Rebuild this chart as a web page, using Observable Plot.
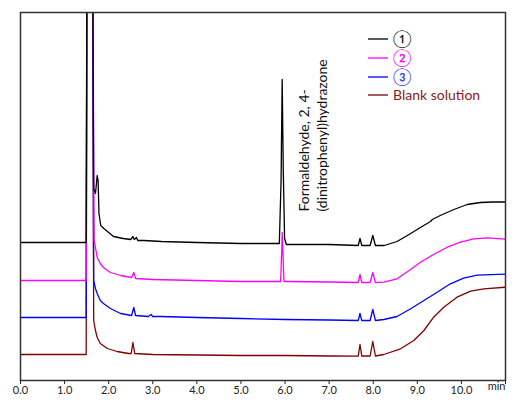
<!DOCTYPE html>
<html><head><meta charset="utf-8">
<script src="https://cdn.jsdelivr.net/npm/d3@7"></script>
<script src="https://cdn.jsdelivr.net/npm/@observablehq/plot@0.6"></script>
<style>body{margin:0;background:#fff}</style>
</head><body><div id="chart"></div>
<script>
// Retention time (min) and detector signal (arbitrary units)
const seriesNames = ["①", "②", "③", "Blank solution"];
const lineColors = ["#000000", "#ff00ff", "#0000ff", "#800000"];
const textColors = ["#222222", "#ff00ff", "#3a3aff", "#8b1a1a"];
const tickValues = [0,1,2,3,4,5,6,7,8,9,10,11];

const trace1 = [[0,138],[1.49,138],[1.51,500],[1.63,500],[1.66,192],[1.70,187],[1.74,205],[1.76,200],[1.78,167],[1.82,155],[1.89,152],[2.0,148],[2.11,144],[2.33,142],[2.5,141],[2.55,144],[2.58,141],[2.63,143],[2.66,140],[2.8,140],[3.2,139],[4.0,138],[5.0,137],[5.87,137],[5.91,200],[5.935,301],[5.96,210],[5.99,142],[6.03,136],[7.0,136],[7.66,135],[7.70,142],[7.74,135],[7.93,135],[7.99,145],[8.05,135],[8.25,135],[8.54,139],[8.85,147],[9.07,153],[9.30,159],[9.34,161],[9.52,165],[9.83,171],[10.13,176],[10.43,178],[10.7,178.5],[11,178.5]];
const trace2 = [[0,100],[1.49,100],[1.51,500],[1.63,500],[1.67,140],[1.70,133],[1.74,123],[1.81,117],[1.88,113],[2.04,108],[2.27,105],[2.52,103],[2.57,108],[2.61,102],[3.0,101],[4.0,100],[5.0,99],[5.90,99],[5.925,130],[5.935,148],[5.95,130],[5.975,99],[6.03,99],[7.0,98.5],[7.66,98],[7.70,106],[7.74,98],[7.93,98],[7.99,108],[8.05,98],[8.24,98.3],[8.54,101.7],[8.84,110.7],[9.07,118.3],[9.37,126],[9.68,133.3],[9.98,138.3],[10.28,141.7],[10.58,142.7],[11,141.3]];
const trace3 = [[0,63],[1.49,63],[1.51,500],[1.63,500],[1.66,100],[1.70,92],[1.74,87],[1.81,80],[1.88,77],[2.04,72],[2.27,67],[2.52,65],[2.57,73],[2.61,65],[2.9,64],[2.96,66],[3.0,64],[3.18,64],[4.0,63],[5.0,62],[6.0,61],[7.0,60.5],[7.66,60],[7.70,67],[7.74,60],[7.93,60],[7.99,71],[8.05,60],[8.24,61],[8.54,64],[8.85,71.7],[9.15,80],[9.45,88.3],[9.75,96.7],[10.05,102.3],[10.36,105.3],[11,106.3]];
const traceBlank = [[0,26],[1.49,26],[1.51,500],[1.63,500],[1.66,60],[1.70,50],[1.74,43],[1.81,37],[1.97,32],[2.19,29],[2.45,27],[2.51,27],[2.55,38],[2.59,27],[3.0,26],[4.0,25.5],[5.0,25],[6.0,25],[7.0,24.5],[7.66,24.3],[7.70,36],[7.74,24.5],[7.93,24.5],[7.99,39],[8.05,24.5],[8.24,26],[8.62,31.7],[8.92,40],[9.15,50],[9.37,63.3],[9.6,73.3],[9.9,83.3],[10.21,89.3],[10.51,91.7],[11,93.3]];
const traces = [trace1, trace2, trace3, traceBlank];

const annotation = {time: 6.62, signal: 169, label: "Formaldehyde, 2, 4-\n(dinitrophenyl)hydrazone"};

const drawOrder = [3, 2, 1, 0];
const lineMarks = drawOrder.map(i => Plot.line(traces[i], {
  x: d => d[0], y: d => d[1], stroke: lineColors[i], strokeWidth: 1.3, clip: true
}));

const svg = Plot.plot({
  width: 516, height: 403,
  marginLeft: 20, marginRight: 11, marginTop: 12, marginBottom: 23,
  style: {fontFamily: "Lato, 'Open Sans', sans-serif", fontSize: "11px", color: "#222", background: "#fff"},
  x: {domain: [0, 11], ticks: tickValues, tickFormat: d => d === 11 ? "" : d.toFixed(1), tickSize: 4, tickPadding: 2, label: null},
  y: {domain: [0, 368], axis: null},
  marks: [
    ...lineMarks,
    Plot.frame({stroke: "#333", strokeWidth: 1.5}),
    Plot.text([annotation], {x: "time", y: "signal", text: "label", rotate: -90, textAnchor: "start", lineAnchor: "middle", lineHeight: 1.31, fontSize: 14, fill: "#111"}),
    Plot.text(["min"], {frameAnchor: "bottom-right", textAnchor: "end", lineAnchor: "middle", dy: 6, fontSize: 11, fill: "#222"})
  ]
});

// Legend inside the plot area
const g = d3.select(svg).append("g")
  .attr("font-family", "Lato, 'DejaVu Sans', sans-serif")
  .attr("text-anchor", "start");
const rowY = [39, 58, 77, 95];
seriesNames.forEach((name, i) => {
  g.append("line").attr("x1", 368).attr("x2", 388).attr("y1", rowY[i]).attr("y2", rowY[i])
    .attr("stroke", lineColors[i]).attr("stroke-width", 1.3);
  g.append("text").attr("x", 393).attr("y", rowY[i]).attr("dy", "0.35em")
    .attr("text-anchor", "start")
    .attr("font-size", i < 3 ? 17 : 14).attr("fill", textColors[i]).text(name);
});

document.getElementById("chart").appendChild(svg);
</script></body></html>
